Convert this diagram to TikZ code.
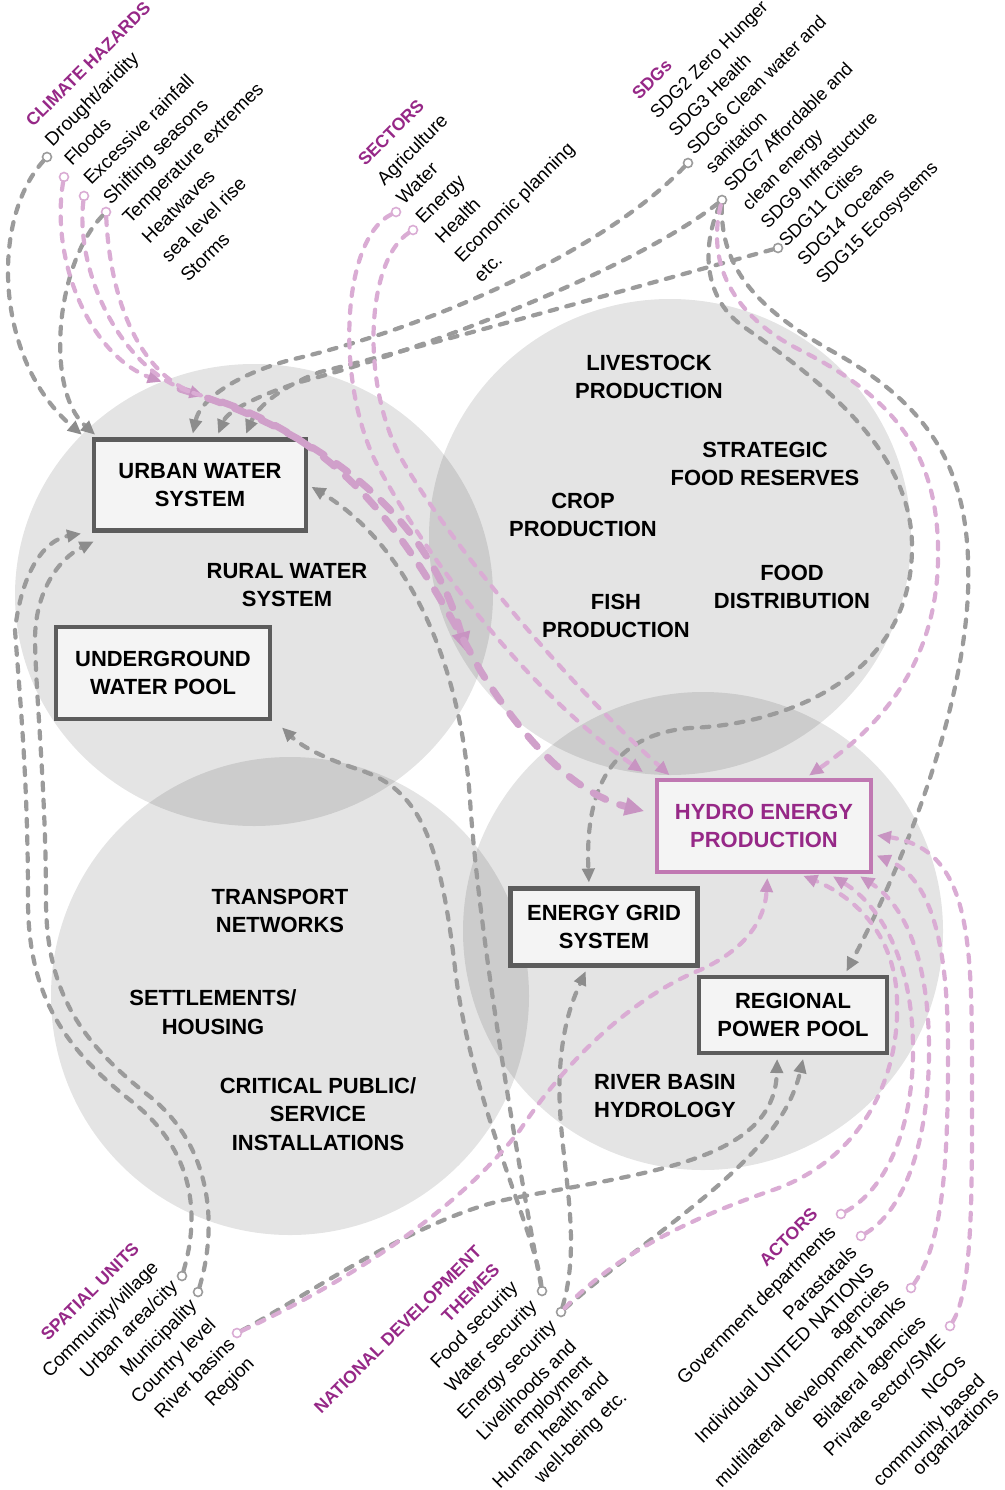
\documentclass[tikz,border=0pt]{standalone}
\usepackage{fontspec}
\setmainfont{Liberation Sans}
\usetikzlibrary{arrows.meta}

\definecolor{linegray}{RGB}{155,155,155}
\definecolor{tipgray}{RGB}{140,140,140}
\definecolor{linepink}{RGB}{218,172,212}
\definecolor{thickpink}{RGB}{208,160,202}
\definecolor{tippink}{RGB}{200,148,194}
\definecolor{headpurple}{RGB}{150,40,135}
\definecolor{hydroedge}{RGB}{192,120,178}
\definecolor{boxedge}{RGB}{92,92,92}
\definecolor{boxfill}{RGB}{244,244,244}

\begin{document}
\begin{tikzpicture}[x=0.02cm, y=-0.02cm,
		sysbox/.style={rectangle, draw=boxedge, line width=2.8pt, fill=boxfill, inner sep=0pt, align=center, font=\fontsize{12.5}{16.4}\selectfont\bfseries},
		syslabel/.style={align=center, inner sep=0pt, font=\fontsize{12.5}{16.4}\selectfont\bfseries},
		lhead/.style={rotate=45, anchor=base west, inner sep=0pt, text=headpurple, font=\fontsize{10}{12}\selectfont\bfseries},
		rhead/.style={lhead, anchor=base east},
		litem/.style={rotate=45, anchor=base west, inner sep=0pt, font=\fontsize{10.8}{13}\selectfont},
		ritem/.style={litem, anchor=base east},
		gdot/.style={circle, draw=linegray, line width=0.9pt, fill=white, inner sep=0pt, minimum size=0.18cm},
		pdot/.style={gdot, draw=linepink},
		gline/.style={draw=linegray, line width=2.4pt, dash pattern=on 4.4pt off 5.4pt, line cap=round, shorten >=2pt, -{Triangle[length=8pt,width=7pt,color=tipgray]}},
		pline/.style={gline, draw=linepink, -{Triangle[length=8pt,width=7pt,color=tippink]}},
		pthick/.style={gline, draw=thickpink, line width=4pt, dash pattern=on 8pt off 8.5pt, -{Triangle[length=11pt,width=10pt,color=tippink]}}
		]
		\useasboundingbox (0,0) rectangle (1004,1490);
		
		% Bubbles
		\fill[black, opacity=0.105] (254,595) ellipse [x radius=239, y radius=231];
		\fill[black, opacity=0.105] (670,537) ellipse [x radius=241, y radius=238];
		\fill[black, opacity=0.105] (290,996) ellipse [x radius=239, y radius=239];
		\fill[black, opacity=0.105] (703,931) ellipse [x radius=240, y radius=239];
		
		% Systems
		\node (uws) [sysbox, minimum width=4.24cm, minimum height=1.82cm] at (200,485) {URBAN WATER\\SYSTEM};
		\node (ugw) [sysbox, minimum width=4.28cm, minimum height=1.84cm] at (163,673) {UNDERGROUND\\WATER POOL};
		\node (rws) [syslabel] at (287,585) {RURAL WATER\\SYSTEM};
		\node (lsp) [syslabel] at (649,377) {LIVESTOCK\\PRODUCTION};
		\node (sfr) [syslabel] at (765,464) {STRATEGIC\\FOOD RESERVES};
		\node (crp) [syslabel] at (583,515) {CROP\\PRODUCTION};
		\node (fsh) [syslabel] at (616,616) {FISH\\PRODUCTION};
		\node (fdd) [syslabel] at (792,587) {FOOD\\DISTRIBUTION};
		\node (trn) [syslabel] at (280,911) {TRANSPORT\\NETWORKS};
		\node (stl) [syslabel] at (213,1012) {SETTLEMENTS/\\HOUSING};
		\node (cps) [syslabel] at (318,1114) {CRITICAL PUBLIC/\\SERVICE\\INSTALLATIONS};
		\node (hep) [sysbox, draw=hydroedge, text=headpurple, minimum width=4.28cm, minimum height=1.84cm] at (764,826) {HYDRO ENERGY\\PRODUCTION};
		\node (egs) [sysbox, minimum width=3.74cm, minimum height=1.54cm] at (604,927) {ENERGY GRID\\SYSTEM};
		\node (rpp) [sysbox, minimum width=3.76cm, minimum height=1.52cm] at (793,1015) {REGIONAL\\POWER POOL};
		\node (rbh) [syslabel] at (665,1096) {RIVER BASIN\\HYDROLOGY};
		
		% Climate hazards
		\node (chh) [lhead] at (33,128) {CLIMATE HAZARDS};
		\foreach \lbl [count=\k] in {{Drought/aridity}, Floods, {Excessive rainfall}, {Shifting seasons}, {Temperature extremes}, Heatwaves, {sea level rise}, Storms}
		\node (ch\k) [litem] at (33+19.4*\k, 128+19.4*\k) {\lbl};
		
		% Sectors
		\node (sch) [lhead] at (365,167) {SECTORS};
		\foreach \lbl [count=\k] in {Agriculture, Water, Energy, Health, {Economic planning}, etc.}
		\node (sc\k) [litem] at (365+19.4*\k, 167+19.4*\k) {\lbl};
		
		% SDGs
		\node (sgh) [lhead] at (639,101) {SDGs};
		\foreach \lbl [count=\k] in {{SDG2 Zero Hunger}, {SDG3 Health}, {SDG6 Clean water and}, sanitation, {SDG7 Affordable and}, {clean energy}, {SDG9 Infrastucture}, {SDG11 Cities}, {SDG14 Oceans}, {SDG15 Ecosystems}}
		\node (sg\k) [litem, font=\fontsize{10.4}{13}\selectfont] at (639+18.4*\k, 101+18.4*\k) {\lbl};
		
		% Spatial units
		\node (suh) [rhead] at (140.5,1249.5) {SPATIAL UNITS};
		\foreach \lbl [count=\k] in {{Community/village}, {Urban area/city}, Municipality, {Country level}, {River basins}, Region}
		\node (su\k) [ritem] at (140.5+19.15*\k, 1249.5+19.15*\k) {\lbl};
		
		% National development themes
		\node (ndh) [rhead] at (483,1253) {NATIONAL DEVELOPMENT};
		\node (ndt) [rhead] at (501,1271) {THEMES};
		\node (nd1) [ritem] at (519,1289) {Food security};
		\node (nd2) [ritem] at (538,1308) {Water security};
		\node (nd3) [ritem] at (557.5,1327.5) {Energy security};
		\node (nd4) [ritem] at (577.5,1347.5) {Livelihoods and};
		\node (nd5) [ritem] at (593,1363) {employment};
		\node (nd6) [ritem] at (610,1380) {Human health and};
		\node (nd7) [ritem] at (628,1398) {well-being etc.};
		
		% Actors
		\node (ach) [rhead] at (819,1215) {ACTORS};
		\node (ac1) [ritem] at (837,1233) {Government departments};
		\node (ac2) [ritem] at (858,1254) {Parastatals};
		\node (ac3) [ritem] at (875.5,1271.5) {Individual UNITED NATIONS};
		\node (ac4) [ritem] at (890.5,1286.5) {agencies};
		\node (ac5) [ritem] at (907,1303) {multilateral development banks};
		\node (ac6) [ritem] at (927,1323) {Bilateral agencies};
		\node (ac7) [ritem] at (946.5,1342.5) {Private sector/SME};
		\node (ac8) [ritem] at (967,1363) {NGOs};
		\node (ac9) [ritem] at (986,1382) {community based};
		\node (ac10) [ritem] at (1000,1396) {organizations};
		
		% Link dots
		\node (drought) [gdot] at (47,157) {};
		\node (floods) [pdot] at (64,177) {};
		\node (rainfall) [pdot] at (84,196) {};
		\node (seasons) [pdot] at (106,212) {};
		\node (swater) [pdot] at (396,212) {};
		\node (senergy) [pdot] at (413,230) {};
		\node (sdg6) [gdot] at (688,163) {};
		\node (sdg7) [gdot] at (722,200) {};
		\node (sdg11) [gdot] at (778,248) {};
		\node (urban) [gdot] at (182,1276) {};
		\node (munic) [gdot] at (198,1292) {};
		\node (basins) [pdot] at (237,1333) {};
		\node (wsec) [gdot] at (542,1291) {};
		\node (esec) [gdot] at (561,1312) {};
		\node (govdep) [pdot] at (841,1214) {};
		\node (parast) [pdot] at (861,1236) {};
		\node (mdbank) [pdot] at (911,1288) {};
		\node (privsec) [pdot] at (950,1326) {};
		\coordinate (hz1) at (165,383);
		\coordinate (hz2) at (207,397);
		\coordinate (tk1) at (180,389);
		\coordinate (tk2) at (222,402);
		\coordinate (lens) at (467,655);
		
		% Gray links
		\draw [gline] (drought) .. controls (-10,220) and (-5,360) .. ([xshift=-4pt]uws.north west);
		\draw [gline] (seasons) .. controls (55,265) and (45,390) .. ([xshift=3.5pt]uws.north west);
		\draw [gline] (sdg6) .. controls (600,255) and (420,330) .. (290,360) .. controls (235,375) and (200,400) .. ([xshift=-4.5pt]uws.north);
		\draw [gline] (sdg7) .. controls (640,265) and (440,345) .. (300,382) .. controls (260,395) and (228,410) .. ([xshift=9.6pt]uws.north);
		\draw [gline] (sdg11) .. controls (650,283) and (430,345) .. (320,372) .. controls (285,385) and (258,405) .. ([xshift=25.5pt]uws.north);
		\draw [gline] (sdg7) .. controls (700,250) and (705,300) .. (744,327) .. controls (820,380) and (912,450) .. (912,547) .. controls (912,680) and (780,725) .. (690,728) .. controls (610,735) and (585,790) .. ([xshift=-8.5pt]egs.north);
		\draw [gline] (sdg7) .. controls (720,270) and (760,310) .. (830,350) .. controls (940,410) and (972,480) .. (968,593) .. controls (962,720) and (900,870) .. ([xshift=29.5pt]rpp.north);
		\draw [gline] (urban) .. controls (200,1215) and (195,1150) .. (130,1100) .. controls (60,1045) and (28,990) .. (28,900) .. controls (28,780) and (20,700) .. (15,630) .. controls (22,570) and (45,540) .. ([xshift=-4pt]uws.south west);
		\draw [gline] (munic) .. controls (218,1225) and (212,1145) .. (148,1095) .. controls (80,1042) and (46,990) .. (46,900) .. controls (46,790) and (36,700) .. (35,640) .. controls (35,590) and (60,558) .. ([xshift=3pt,yshift=-4pt]uws.south west);
		\draw [gline] (wsec) .. controls (525,1200) and (480,950) .. (470,800) .. controls (460,650) and (400,540) .. (uws.east);
		\draw [gline] (wsec) .. controls (535,1230) and (470,1100) .. (455,968) .. controls (440,840) and (420,790) .. (360,770) .. controls (320,757) and (300,745) .. ([xshift=4pt,yshift=-2pt]ugw.south east);
		\draw [gline] (basins) .. controls (300,1300) and (420,1215) .. (514,1198) .. controls (650,1172) and (775,1160) .. ([xshift=-9pt]rpp.south);
		\draw [gline] (esec) .. controls (585,1230) and (555,1150) .. (560,1070) .. controls (563,1020) and (575,995) .. ([xshift=-9.6pt]egs.south);
		\draw [gline] (esec) .. controls (660,1225) and (780,1160) .. ([xshift=6.2pt]rpp.south);
		
		% Pink links
		\draw [pthick] (tk1) .. controls (330,435) and (430,520) .. (lens);
		\draw [pthick] (tk2) .. controls (360,450) and (420,560) .. (480,670) .. controls (530,750) and (580,795) .. ([xshift=-4pt,yshift=8pt]hep.west);
		\draw [pline] (floods) .. controls (50,260) and (90,355) .. (hz1);
		\draw [pline] (rainfall) .. controls (75,270) and (120,370) .. (hz2);
		\draw [pline, -] (seasons) .. controls (110,300) and (140,380) .. (hz2);
		\draw [pline] (swater) .. controls (340,240) and (335,390) .. (380,470) .. controls (440,580) and (540,700) .. ([xshift=-5pt,yshift=2pt]hep.north west);
		\draw [pline] (senergy) .. controls (365,262) and (360,390) .. (405,465) .. controls (465,565) and (580,695) .. ([xshift=10pt]hep.north west);
		\draw [pline] (sdg7) .. controls (705,270) and (740,320) .. (800,350) .. controls (900,400) and (940,460) .. (938,560) .. controls (936,680) and (860,740) .. ([xshift=24pt]hep.north);
		\draw [pline] (basins) .. controls (330,1290) and (450,1220) .. (520,1130) .. controls (580,1040) and (650,990) .. (700,970) .. controls (745,950) and (765,920) .. ([xshift=2pt]hep.south);
		\draw [pline] (esec) .. controls (620,1250) and (700,1215) .. (773,1190) .. controls (860,1160) and (900,1080) .. (897,1000) .. controls (895,930) and (850,895) .. ([xshift=20.5pt]hep.south);
		\draw [pline] (govdep) .. controls (885,1190) and (913,1130) .. (913,1050) .. controls (913,960) and (880,905) .. ([xshift=37.5pt]hep.south);
		\draw [pline] (parast) .. controls (905,1210) and (929,1140) .. (929,1050) .. controls (929,960) and (905,905) .. ([xshift=53pt]hep.south);
		\draw [pline] (mdbank) .. controls (945,1240) and (948,1150) .. (948,1050) .. controls (948,940) and (930,878) .. ([yshift=-16pt]hep.east);
		\draw [pline] (privsec) .. controls (972,1290) and (972,1200) .. (972,1100) .. controls (972,950) and (975,850) .. ([yshift=-5pt]hep.east);
		
	\end{tikzpicture}
\end{document}
